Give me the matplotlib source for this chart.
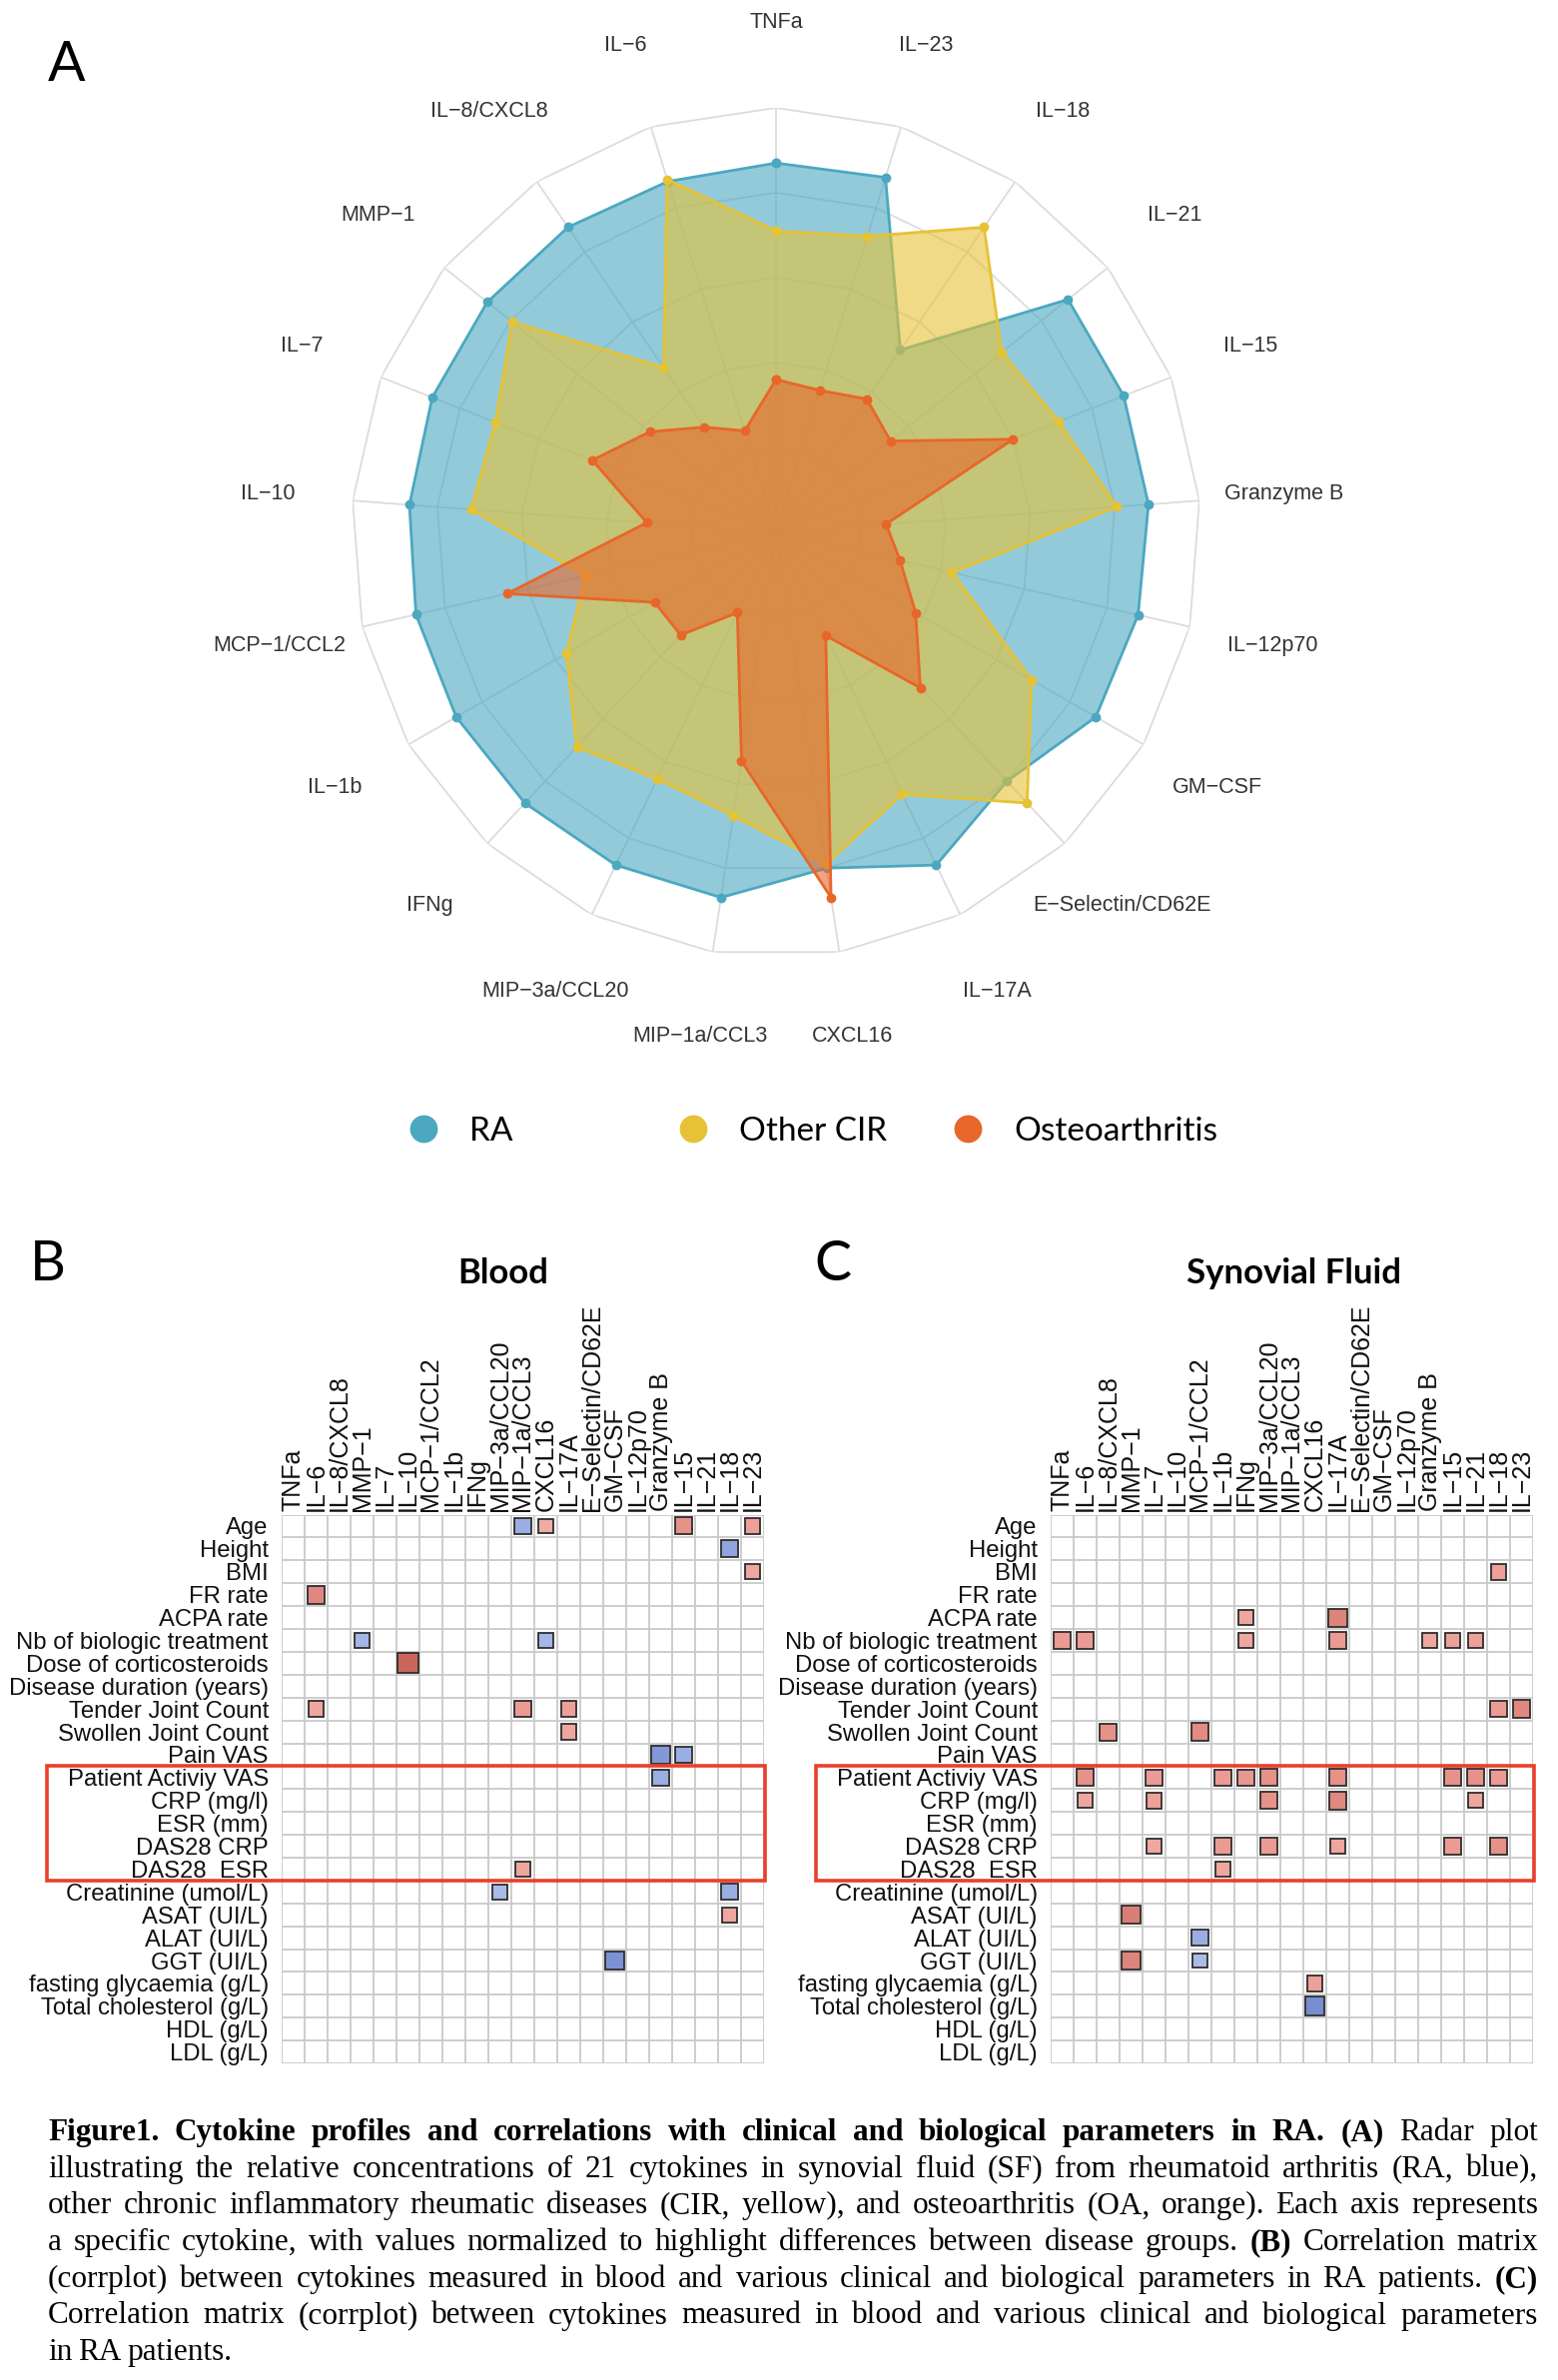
"""
Figure 1: radar plot of cytokine profiles (A) and corrplots of cytokines against
clinical / biological parameters in blood (B) and synovial fluid (C).
Values are read off the published figure.
"""

import numpy as np
import matplotlib
matplotlib.use("Agg")
import matplotlib.pyplot as plt
from matplotlib.colors import LinearSegmentedColormap, Normalize
from matplotlib.lines import Line2D
from matplotlib.patches import Rectangle


W_PX, H_PX, DPI = 1560, 2383, 100

# ---------------------------------------------------------
# DATA
# ---------------------------------------------------------
CYTOKINES = ["TNFa", "IL−6", "IL−8/CXCL8", "MMP−1", "IL−7", "IL−10", "MCP−1/CCL2",
             "IL−1b", "IFNg", "MIP−3a/CCL20", "MIP−1a/CCL3", "CXCL16", "IL−17A",
             "E−Selectin/CD62E", "GM−CSF", "IL−12p70", "Granzyme B", "IL−15",
             "IL−21", "IL−18", "IL−23"]

# normalised values, same order as CYTOKINES
RA = [0.87, 0.865, 0.87, 0.87, 0.87, 0.866, 0.87, 0.87, 0.87, 0.87, 0.87,
      0.80, 0.87, 0.80, 0.87, 0.875, 0.88, 0.88, 0.88, 0.52, 0.875]
OTHER_CIR = [0.71, 0.87, 0.47, 0.795, 0.71, 0.72, 0.46, 0.57, 0.69, 0.645, 0.675,
             0.79, 0.685, 0.87, 0.695, 0.425, 0.805, 0.715, 0.68, 0.87, 0.73]
OA = [0.36, 0.25, 0.30, 0.38, 0.465, 0.305, 0.65, 0.33, 0.33, 0.21, 0.545,
      0.87, 0.27, 0.50, 0.38, 0.30, 0.26, 0.60, 0.345, 0.38, 0.35]

GROUPS = ["RA", "Other CIR", "Osteoarthritis"]
GROUP_COLORS = ["#4BA8C0", "#E6C235", "#E8662A"]

PARAMETERS = ["Age", "Height", "BMI", "FR rate", "ACPA rate", "Nb of biologic treatment",
              "Dose of corticosteroids", "Disease duration (years)", "Tender Joint Count",
              "Swollen Joint Count", "Pain VAS", "Patient Activiy VAS", "CRP (mg/l)",
              "ESR (mm)", "DAS28 CRP", "DAS28  ESR", "Creatinine (umol/L)", "ASAT (UI/L)",
              "ALAT (UI/L)", "GGT (UI/L)", "fasting glycaemia (g/L)",
              "Total cholesterol (g/L)", "HDL (g/L)", "LDL (g/L)"]

# significant correlations only: (parameter, cytokine, r)
BLOOD_CORR = [
    ("Age", "MIP−1a/CCL3", -0.50), ("Age", "CXCL16", 0.42), ("Age", "IL−15", 0.55),
    ("Age", "IL−23", 0.48),
    ("Height", "IL−18", -0.55),
    ("BMI", "IL−23", 0.45),
    ("FR rate", "IL−6", 0.60),
    ("Nb of biologic treatment", "MMP−1", -0.45), ("Nb of biologic treatment", "CXCL16", -0.45),
    ("Dose of corticosteroids", "IL−10", 0.78),
    ("Tender Joint Count", "IL−6", 0.45), ("Tender Joint Count", "MIP−1a/CCL3", 0.50),
    ("Tender Joint Count", "IL−17A", 0.48),
    ("Swollen Joint Count", "IL−17A", 0.45),
    ("Pain VAS", "Granzyme B", -0.62), ("Pain VAS", "IL−15", -0.50),
    ("Patient Activiy VAS", "Granzyme B", -0.50),
    ("DAS28  ESR", "MIP−1a/CCL3", 0.45),
    ("Creatinine (umol/L)", "MIP−3a/CCL20", -0.42), ("Creatinine (umol/L)", "IL−18", -0.50),
    ("ASAT (UI/L)", "IL−18", 0.45),
    ("GGT (UI/L)", "GM−CSF", -0.65),
]

SF_CORR = [
    ("BMI", "IL−18", 0.48),
    ("ACPA rate", "IFNg", 0.45), ("ACPA rate", "IL−17A", 0.62),
    ("Nb of biologic treatment", "TNFa", 0.50), ("Nb of biologic treatment", "IL−6", 0.50),
    ("Nb of biologic treatment", "IFNg", 0.45), ("Nb of biologic treatment", "IL−17A", 0.50),
    ("Nb of biologic treatment", "Granzyme B", 0.45), ("Nb of biologic treatment", "IL−15", 0.47),
    ("Nb of biologic treatment", "IL−21", 0.47),
    ("Tender Joint Count", "IL−18", 0.50), ("Tender Joint Count", "IL−23", 0.60),
    ("Swollen Joint Count", "IL−8/CXCL8", 0.55), ("Swollen Joint Count", "MCP−1/CCL2", 0.58),
    ("Patient Activiy VAS", "IL−6", 0.55), ("Patient Activiy VAS", "IL−7", 0.50),
    ("Patient Activiy VAS", "IL−1b", 0.50), ("Patient Activiy VAS", "IFNg", 0.52),
    ("Patient Activiy VAS", "MIP−3a/CCL20", 0.55), ("Patient Activiy VAS", "IL−17A", 0.55),
    ("Patient Activiy VAS", "IL−15", 0.55), ("Patient Activiy VAS", "IL−21", 0.55),
    ("Patient Activiy VAS", "IL−18", 0.50),
    ("CRP (mg/l)", "IL−6", 0.45), ("CRP (mg/l)", "IL−7", 0.47),
    ("CRP (mg/l)", "MIP−3a/CCL20", 0.55), ("CRP (mg/l)", "IL−17A", 0.60),
    ("CRP (mg/l)", "IL−21", 0.45),
    ("DAS28 CRP", "IL−7", 0.45), ("DAS28 CRP", "IL−1b", 0.50),
    ("DAS28 CRP", "MIP−3a/CCL20", 0.50), ("DAS28 CRP", "IL−17A", 0.45),
    ("DAS28 CRP", "IL−15", 0.50), ("DAS28 CRP", "IL−18", 0.55),
    ("DAS28  ESR", "IL−1b", 0.45),
    ("ASAT (UI/L)", "MMP−1", 0.65),
    ("ALAT (UI/L)", "MCP−1/CCL2", -0.50),
    ("GGT (UI/L)", "MMP−1", 0.62), ("GGT (UI/L)", "MCP−1/CCL2", -0.42),
    ("fasting glycaemia (g/L)", "CXCL16", 0.48),
    ("Total cholesterol (g/L)", "CXCL16", -0.68),
]

HIGHLIGHT_ROWS = ("Patient Activiy VAS", "DAS28  ESR")

CAPTION_LINES = [
    "**Figure1. Cytokine profiles and correlations with clinical and biological parameters in RA. (A)** Radar plot",
    "illustrating the relative concentrations of 21 cytokines in synovial fluid (SF) from rheumatoid arthritis (RA, blue),",
    "other chronic inflammatory rheumatic diseases (CIR, yellow), and osteoarthritis (OA, orange). Each axis represents",
    "a specific cytokine, with values normalized to highlight differences between disease groups. **(B)** Correlation matrix",
    "(corrplot) between cytokines measured in blood and various clinical and biological parameters in RA patients. **(C)**",
    "Correlation matrix (corrplot) between cytokines measured in blood and various clinical and biological parameters",
    "in RA patients.",
]

GRID = "#DCDCDC"
CELL_GRID = "#C9C9C9"
SANS = ["Liberation Sans", "DejaVu Sans"]
CAL = ["Lato", "DejaVu Sans"]

CORR_CMAP = LinearSegmentedColormap.from_list(
    "corr", ["#3A55B0", "#9AAEE4", "#FFFFFF", "#EC9C94", "#B03A30"])


def fx(px):
    return px / W_PX


def fy(py):
    return 1 - py / H_PX


fig = plt.figure(figsize=(W_PX / DPI, H_PX / DPI), dpi=DPI)
fig.patch.set_facecolor("white")

# ---------------------------------------------------------
# A: radar
# ---------------------------------------------------------
cx, cy, R = 777, 533, 425
ax = fig.add_axes([fx(cx - R), fy(cy + R), 2 * R / W_PX, 2 * R / H_PX], projection="polar")
ax.set_theta_zero_location("N")
ax.set_theta_direction(1)
ax.set_ylim(0, 1)
ax.grid(False)
ax.set_xticks([])
ax.set_yticks([])
ax.spines["polar"].set_visible(False)
ax.patch.set_alpha(0)

n = len(CYTOKINES)
theta = np.arange(n) * 2 * np.pi / n
theta_c = np.append(theta, theta[0])

for lvl in [0.2, 0.4, 0.6, 0.8, 1.0]:
    ax.plot(theta_c, np.full(n + 1, lvl), color=GRID, lw=1.3, zorder=1)
for t in theta:
    ax.plot([t, t], [0, 1], color=GRID, lw=1.3, zorder=1)

for k, (vals, color) in enumerate(zip([RA, OTHER_CIR, OA], GROUP_COLORS)):
    v = np.append(vals, vals[0])
    ax.fill(theta_c, v, color=color, alpha=0.6, lw=0, zorder=2 + k)
    ax.plot(theta_c, v, color=color, lw=2.0, marker="o", ms=6, zorder=2.5 + k)

for t, lab in zip(theta, CYTOKINES):
    ax.text(t, 1.2, lab, ha="center", va="center", fontsize=15.5, color="#333333",
            family=SANS)

fig.text(fx(48), fy(81), "A", fontsize=40, family=CAL, va="baseline")

# legend, one entry per group
legend_x = [407, 677, 952]
for lab, color, x in zip(GROUPS, GROUP_COLORS, legend_x):
    h = Line2D([], [], color=color, marker="o", ls="none", ms=19)
    fig.legend(handles=[h], labels=[lab], loc="center left",
               bbox_to_anchor=(fx(x), fy(1133)), frameon=False, handlelength=1.0,
               handletextpad=0.9, borderpad=0, borderaxespad=0,
               prop={"family": CAL, "size": 24})

# ---------------------------------------------------------
# B / C: corrplots
# ---------------------------------------------------------
norm = Normalize(vmin=-1, vmax=1)
n_rows, n_cols = len(PARAMETERS), len(CYTOKINES)
cell_w, cell_h = 23.0, 22.9
grid_top = 1516.5


def draw_corrplot(left_px, pairs, title, title_x, letter, letter_x):
    ax = fig.add_axes([fx(left_px), fy(grid_top + n_rows * cell_h),
                       n_cols * cell_w / W_PX, n_rows * cell_h / H_PX])
    ax.set_xlim(0.5, n_cols + 0.5)
    ax.set_ylim(n_rows + 0.5, 0.5)
    ax.vlines(np.arange(n_cols + 1) + 0.5, 0.5, n_rows + 0.5, color=CELL_GRID, lw=1.3)
    ax.hlines(np.arange(n_rows + 1) + 0.5, 0.5, n_cols + 0.5, color=CELL_GRID, lw=1.3)
    for s in ax.spines.values():
        s.set_visible(False)

    for row, col, r in pairs:
        i = PARAMETERS.index(row) + 1
        j = CYTOKINES.index(col) + 1
        side = np.sqrt(abs(r))
        ax.add_patch(Rectangle((j - side / 2, i - side / 2), side, side,
                               facecolor=CORR_CMAP(norm(r)), edgecolor="#2D2D2D",
                               lw=1.3, zorder=3))

    ax.xaxis.set_ticks_position("top")
    ax.set_xticks(np.arange(1, n_cols + 1))
    ax.set_xticklabels(CYTOKINES, rotation=90, fontsize=18, family=SANS, color="#111111")
    ax.set_yticks(np.arange(1, n_rows + 1))
    ax.set_yticklabels(PARAMETERS, fontsize=17.2, family=SANS, color="#111111")
    ax.tick_params(axis="x", length=0, pad=2.5)
    ax.tick_params(axis="y", length=0, pad=9.5)

    r0 = PARAMETERS.index(HIGHLIGHT_ROWS[0]) + 0.5
    r1 = PARAMETERS.index(HIGHLIGHT_ROWS[1]) + 1.5
    ax.add_patch(Rectangle((-9.7, r0), n_cols + 0.55 + 9.7, r1 - r0, fill=False,
                           edgecolor="#E8402A", lw=2.6, clip_on=False, zorder=5))

    fig.text(fx(title_x), fy(1285), title, fontsize=25, fontweight="bold",
             family=CAL, ha="center", va="baseline")
    fig.text(fx(letter_x), fy(1282), letter, fontsize=40, family=CAL, va="baseline")


draw_corrplot(282, BLOOD_CORR, "Blood", 504, "B", 30)
draw_corrplot(1052, SF_CORR, "Synovial Fluid", 1296, "C", 815)

# ---------------------------------------------------------
# caption, justified
# ---------------------------------------------------------
renderer = fig.canvas.get_renderer()
cap_left, cap_right, base0, line_gap = 48, 1540, 2143, 36.7
for k, line in enumerate(CAPTION_LINES):
    words, bold = [], False
    for w in line.split(" "):
        if w.startswith("**"):
            bold, w = True, w[2:]
        end = w.endswith("**")
        if end:
            w = w[:-2]
        words.append((w, bold))
        if end:
            bold = False
    y = fy(base0 + k * line_gap)
    texts, widths = [], []
    for w, b in words:
        t = fig.text(0, y, w, fontsize=22.5, family=["Liberation Serif", "DejaVu Serif"],
                     fontweight="bold" if b else "normal", va="baseline", ha="left")
        texts.append(t)
        widths.append(t.get_window_extent(renderer).width)
    if k < len(CAPTION_LINES) - 1:
        gap = max((cap_right - cap_left - sum(widths)) / (len(words) - 1), 3.0)
    else:
        gap = 6.0
    x = cap_left
    for t, w in zip(texts, widths):
        t.set_x(fx(x))
        x += w + gap

fig.savefig("out.png", dpi=DPI, facecolor="white")
